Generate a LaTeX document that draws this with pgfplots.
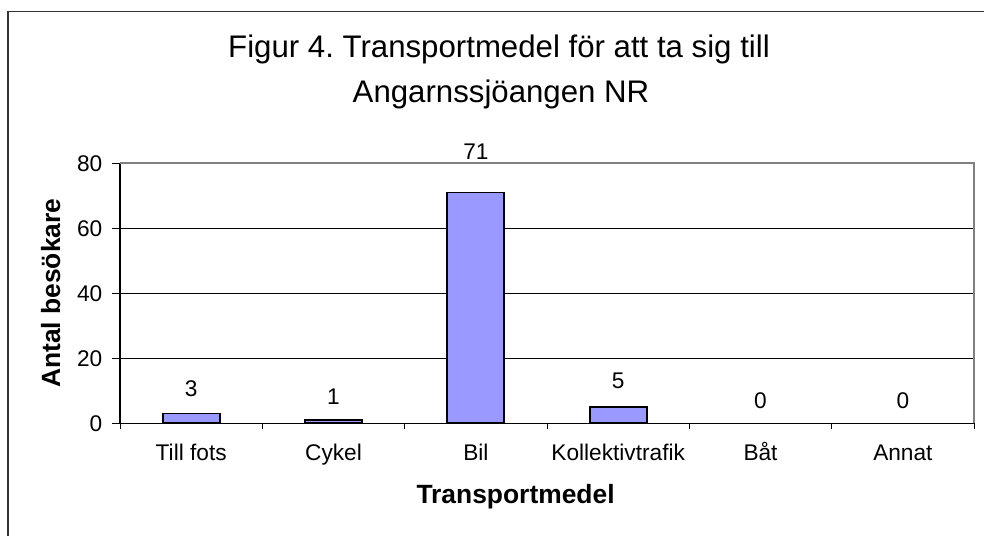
\documentclass[border=0pt]{standalone}
\usepackage{pgfplots}
\pgfplotsset{compat=1.18}
\usepackage{pgfplotstable}
\usepackage{fontspec}
\setmainfont{Liberation Sans}
\frenchspacing
\definecolor{barblue}{RGB}{153,153,255}
\definecolor{framegray}{RGB}{128,128,128}

% x = category index, y = visitors, off = label offset above bar top (px)
\pgfplotstableread{
x y off
0 3 25
1 1 23
2 71 41
3 5 26
4 0 23
5 0 23
}\transport

\pgfplotsset{/pgf/number format/assume math mode=true}

\begin{document}
\begin{tikzpicture}
\useasboundingbox (0pt,0pt) rectangle (738pt,401.25pt);
\draw[black!80, line width=1.2pt] (6.2pt,-2pt) -- (6.2pt,392.5pt) -- (745pt,392.5pt);
\node[anchor=base, font=\fontsize{23.4}{28}\selectfont] at (374.25pt,357.75pt)
  {Figur 4. Transportmedel för att ta sig till};
\node[anchor=base, font=\fontsize{23.4}{28}\selectfont] at (375.75pt,324pt)
  {Angarnssjöangen NR};
\begin{axis}[
  at={(143.4pt,83.8pt)}, anchor=origin,
  scale only axis, width=640.5pt, height=195pt,
  xmin=-0.5, xmax=5.5, ymin=0, ymax=80,
  clip=false,
  axis lines=left,
  axis line style={-, line width=1.1pt, black},
  tick align=outside,
  xtick={0,...,5},
  xticklabels={Till fots, Cykel, Bil, Kollektivtrafik, Båt, Annat},
  major x tick style={draw=none},
  minor xtick={-0.5,0.5,1.5,2.5,3.5,4.5,5.5},
  minor tick length=4.5pt,
  minor x tick style={black, line width=0.8pt},
  ytick={0,20,40,60,80},
  major tick length=6pt,
  y tick style={black, line width=0.8pt},
  ymajorgrids,
  grid style={black, line width=0.75pt},
  tick label style={font=\fontsize{17}{20}\selectfont},
  xticklabel style={anchor=base, yshift=-21.75pt},
  yticklabel style={xshift=-3.75pt},
  xlabel={Transportmedel},
  ylabel={Antal besökare},
  every axis x label/.style={at={(axis description cs:0.5,0)}, anchor=base,
    xshift=-23.6pt, yshift=-59.8pt, font=\bfseries\fontsize{19.8}{24}\selectfont},
  every axis y label/.style={at={(axis description cs:0,0.5)},
    xshift=-45pt, rotate=90, anchor=base,
    font=\bfseries\fontsize{19.8}{24}\selectfont},
]
\addplot[ybar, bar width=0.4, fill=barblue, draw=black, line width=1.4pt,
  restrict y to domain=0.5:100] table[x=x, y=y] {\transport};
\addplot[draw=none, mark=none, nodes near coords,
  visualization depends on={\thisrow{off} \as \off},
  every node near coord/.append style={anchor=center, yshift={\off*0.75pt},
    font=\fontsize{17}{20}\selectfont}]
  table[x=x, y=y] {\transport};
\draw[framegray, line width=1.5pt] (rel axis cs:0,1) -- (rel axis cs:1,1) -- (rel axis cs:1,0);
\end{axis}
\end{tikzpicture}
\end{document}
